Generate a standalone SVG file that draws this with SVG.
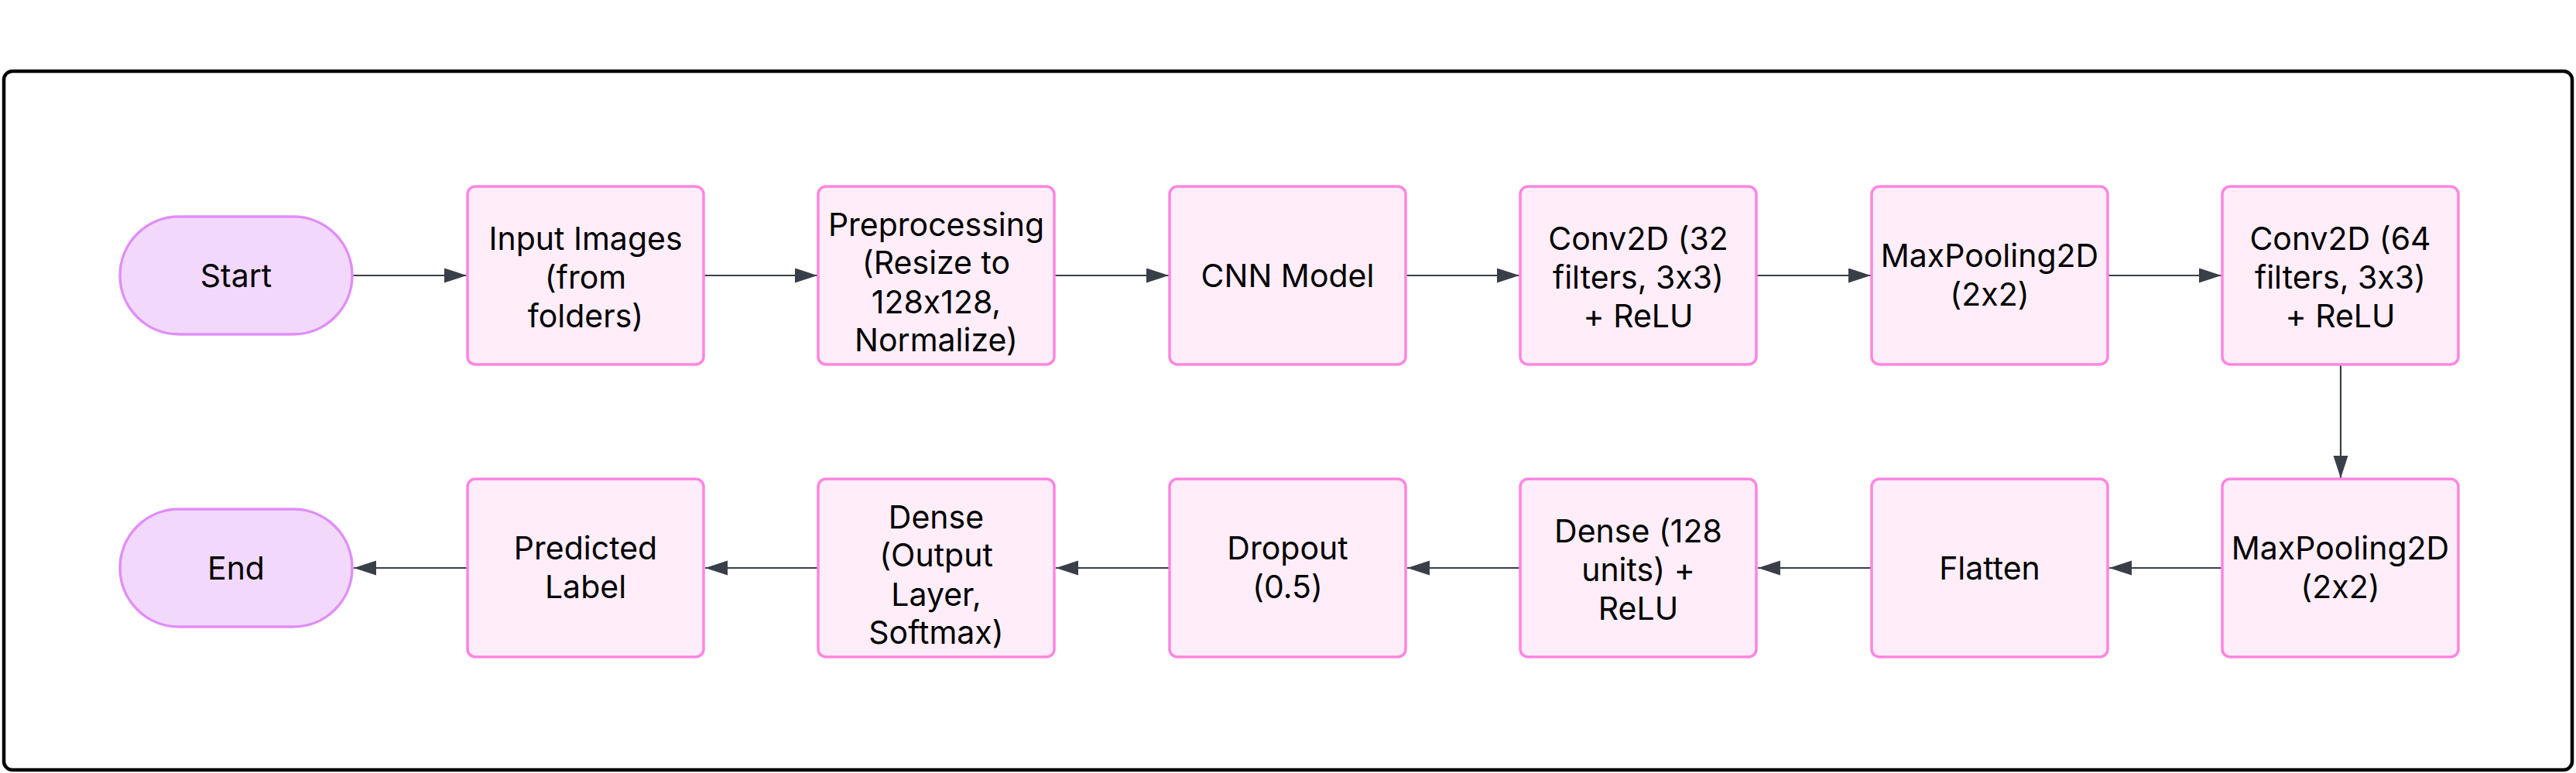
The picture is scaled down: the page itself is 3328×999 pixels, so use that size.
<svg xmlns="http://www.w3.org/2000/svg" width="3328" height="999" viewBox="0 0 3328 999">
<defs>
<style>
.frame{fill:#ffffff;stroke:#000000;stroke-width:4.5}
.term{fill:#f2d9fc;stroke:#e08ef8;stroke-width:3.5}
.box{fill:#ffeef9;stroke:#ff85e0;stroke-width:3.5}
.lbl{font-family:Inter,"Noto Sans","Liberation Sans",sans-serif;font-size:41px;fill:#000000;text-anchor:middle;font-feature-settings:"calt" 0;font-variant-ligatures:no-contextual}
.edge{fill:none;stroke:#393f48;stroke-width:2.2}
</style>
<marker id="ah" markerUnits="userSpaceOnUse" markerWidth="30" markerHeight="20" refX="29" refY="9.5" orient="auto">
<path d="M0,0 L29,9.5 L0,19 z" fill="#393f48"/>
</marker>
</defs>
<rect width="3328" height="999" fill="#ffffff"/>
<rect class="frame" x="5" y="92" width="3318" height="903" rx="11"/>

<g id="connectors">
<line class="edge" x1="455" y1="356" x2="603" y2="356" marker-end="url(#ah)"/>
<line class="edge" x1="909" y1="356" x2="1056" y2="356" marker-end="url(#ah)"/>
<line class="edge" x1="1362" y1="356" x2="1510" y2="356" marker-end="url(#ah)"/>
<line class="edge" x1="1816" y1="356" x2="1963" y2="356" marker-end="url(#ah)"/>
<line class="edge" x1="2269" y1="356" x2="2417" y2="356" marker-end="url(#ah)"/>
<line class="edge" x1="2723" y1="356" x2="2870" y2="356" marker-end="url(#ah)"/>
<line class="edge" x1="3024" y1="472" x2="3024" y2="618" marker-end="url(#ah)"/>
<line class="edge" x1="2871" y1="734" x2="2725" y2="734" marker-end="url(#ah)"/>
<line class="edge" x1="2417" y1="734" x2="2271" y2="734" marker-end="url(#ah)"/>
<line class="edge" x1="1964" y1="734" x2="1818" y2="734" marker-end="url(#ah)"/>
<line class="edge" x1="1510" y1="734" x2="1364" y2="734" marker-end="url(#ah)"/>
<line class="edge" x1="1057" y1="734" x2="911" y2="734" marker-end="url(#ah)"/>
<line class="edge" x1="604" y1="734" x2="457" y2="734" marker-end="url(#ah)"/>
</g>

<g id="start">
<rect class="term" x="155" y="280" width="300" height="152" rx="76" ry="76"/>
<text class="lbl" x="305" y="370.5">Start</text>
</g>
<g id="input-images">
<rect class="box" x="604" y="241" width="305" height="230" rx="10"/>
<text class="lbl" x="756.5" y="322.5">Input Images</text>
<text class="lbl" x="756.5" y="372.5">(from</text>
<text class="lbl" x="756.5" y="422.5">folders)</text>
</g>
<g id="preprocessing">
<rect class="box" x="1057" y="241" width="305" height="230" rx="10"/>
<text class="lbl" x="1209.5" y="305">Preprocessing</text>
<text class="lbl" x="1209.5" y="354">(Resize to</text>
<text class="lbl" x="1209.5" y="405">128x128,</text>
<text class="lbl" x="1209.5" y="454">Normalize)</text>
</g>
<g id="cnn-model">
<rect class="box" x="1511" y="241" width="305" height="230" rx="10"/>
<text class="lbl" x="1663.5" y="370.5">CNN Model</text>
</g>
<g id="conv2d-32">
<rect class="box" x="1964" y="241" width="305" height="230" rx="10"/>
<text class="lbl" x="2116.5" y="322.5">Conv2D (32</text>
<text class="lbl" x="2116.5" y="372.5">filters, 3x3)</text>
<text class="lbl" x="2116.5" y="422.5">+ ReLU</text>
</g>
<g id="maxpool-1">
<rect class="box" x="2418" y="241" width="305" height="230" rx="10"/>
<text class="lbl" x="2570.5" y="345">MaxPooling2D</text>
<text class="lbl" x="2570.5" y="395">(2x2)</text>
</g>
<g id="conv2d-64">
<rect class="box" x="2871" y="241" width="305" height="230" rx="10"/>
<text class="lbl" x="3023.5" y="322.5">Conv2D (64</text>
<text class="lbl" x="3023.5" y="372.5">filters, 3x3)</text>
<text class="lbl" x="3023.5" y="422.5">+ ReLU</text>
</g>

<g id="maxpool-2">
<rect class="box" x="2871" y="619" width="305" height="230" rx="10"/>
<text class="lbl" x="3023.5" y="723">MaxPooling2D</text>
<text class="lbl" x="3023.5" y="773">(2x2)</text>
</g>
<g id="flatten">
<rect class="box" x="2418" y="619" width="305" height="230" rx="10"/>
<text class="lbl" x="2570.5" y="748.5">Flatten</text>
</g>
<g id="dense-128">
<rect class="box" x="1964" y="619" width="305" height="230" rx="10"/>
<text class="lbl" x="2116.5" y="700.5">Dense (128</text>
<text class="lbl" x="2116.5" y="750.5">units) +</text>
<text class="lbl" x="2116.5" y="800.5">ReLU</text>
</g>
<g id="dropout">
<rect class="box" x="1511" y="619" width="305" height="230" rx="10"/>
<text class="lbl" x="1663.5" y="723">Dropout</text>
<text class="lbl" x="1663.5" y="773">(0.5)</text>
</g>
<g id="dense-output">
<rect class="box" x="1057" y="619" width="305" height="230" rx="10"/>
<text class="lbl" x="1209.5" y="683">Dense</text>
<text class="lbl" x="1209.5" y="732">(Output</text>
<text class="lbl" x="1209.5" y="783">Layer,</text>
<text class="lbl" x="1209.5" y="832">Softmax)</text>
</g>
<g id="predicted-label">
<rect class="box" x="604" y="619" width="305" height="230" rx="10"/>
<text class="lbl" x="756.5" y="723">Predicted</text>
<text class="lbl" x="756.5" y="773">Label</text>
</g>
<g id="end">
<rect class="term" x="155" y="658" width="300" height="152" rx="76" ry="76"/>
<text class="lbl" x="305" y="748.5">End</text>
</g>
</svg>
